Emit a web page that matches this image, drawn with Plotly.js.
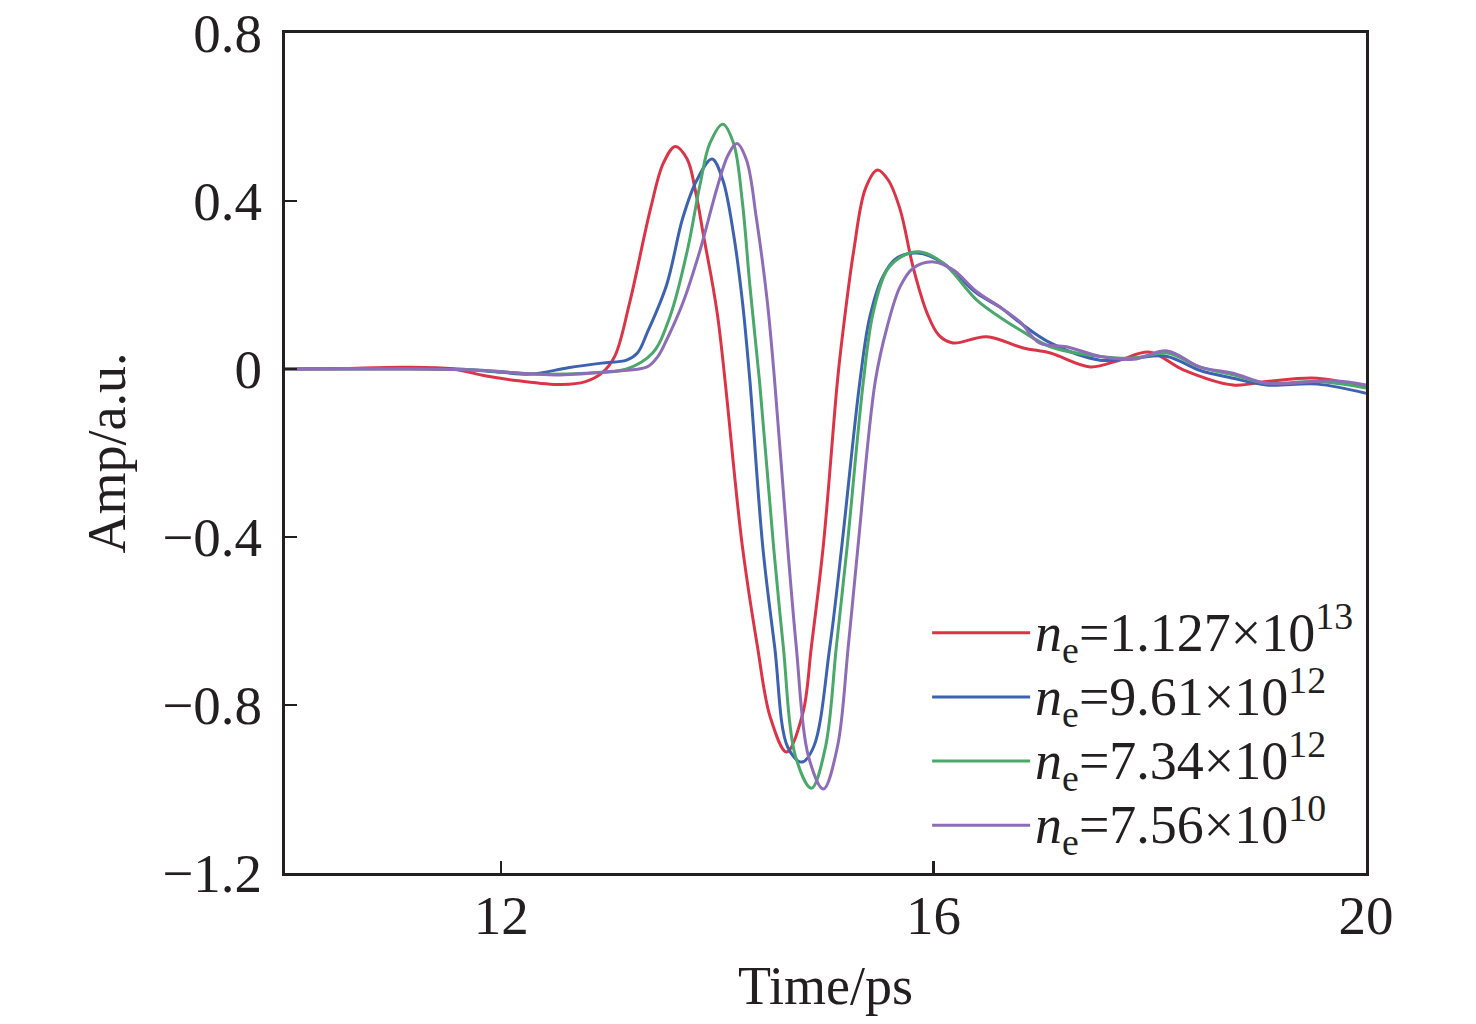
<!DOCTYPE html>
<html>
<head>
<meta charset="utf-8">
<script src="https://cdn.plot.ly/plotly-3.0.1.min.js"></script>
<style>
  body { margin: 0; background: #fff; }
  #chart { width: 1476px; height: 1024px; }
</style>
</head>
<body>
<div id="chart"></div>
<script>
// values (time in ps, amplitude in a.u.)
const redT = [10, 10.5, 11.1, 11.55, 11.85, 12.16, 12.56, 12.78, 12.93, 13.05, 13.19, 13.38, 13.5, 13.61, 13.72, 13.8, 13.87, 14.0, 14.23, 14.37, 14.49, 14.64, 14.79, 14.87, 14.98, 15.11, 15.16, 15.26, 15.37, 15.48, 15.58, 15.69, 15.81, 15.94, 16.05, 16.18, 16.49, 16.83, 17.08, 17.45, 17.72, 18.0, 18.31, 18.77, 19.08, 19.55, 20];
const redA = [0, 0.001, 0.004, 0, -0.016, -0.028, -0.037, -0.03, -0.01, 0.03, 0.16, 0.38, 0.49, 0.53, 0.5, 0.42, 0.32, 0.13, -0.42, -0.66, -0.83, -0.912, -0.82, -0.66, -0.42, -0.03, 0.086, 0.28, 0.43, 0.474, 0.45, 0.38, 0.243, 0.133, 0.08, 0.062, 0.077, 0.05, 0.038, 0.005, 0.021, 0.04, -0.002, -0.038, -0.03, -0.022, -0.045];

const blueT = [10, 11, 11.6, 12.0, 12.28, 12.62, 12.93, 13.16, 13.26, 13.35, 13.53, 13.68, 13.81, 13.95, 14.05, 14.15, 14.23, 14.3, 14.42, 14.53, 14.65, 14.78, 14.89, 15.04, 15.15, 15.32, 15.41, 15.53, 15.66, 15.85, 16.09, 16.4, 16.61, 16.8, 17.08, 17.54, 17.85, 18.16, 18.46, 18.77, 19.08, 19.55, 20];
const blueA = [0, 0.001, 0, -0.008, -0.012, 0.003, 0.014, 0.021, 0.038, 0.086, 0.2, 0.36, 0.45, 0.5, 0.45, 0.32, 0.164, -0.026, -0.424, -0.662, -0.9, -0.936, -0.9, -0.662, -0.424, -0.026, 0.124, 0.22, 0.264, 0.276, 0.252, 0.18, 0.148, 0.11, 0.062, 0.021, 0.026, 0.03, -0.003, -0.022, -0.038, -0.036, -0.058];

const greenT = [10, 11, 11.8, 12.3, 12.78, 13.16, 13.4, 13.56, 13.72, 13.84, 13.93, 14.05, 14.15, 14.23, 14.3, 14.39, 14.52, 14.61, 14.72, 14.87, 15.0, 15.1, 15.2, 15.35, 15.44, 15.57, 15.72, 15.87, 16.09, 16.4, 16.61, 16.8, 17.08, 17.54, 17.85, 18.16, 18.46, 18.77, 19.08, 19.55, 20];
const greenA = [0, 0, -0.003, -0.012, -0.01, 0, 0.038, 0.124, 0.28, 0.44, 0.537, 0.583, 0.537, 0.4, 0.2, -0.03, -0.424, -0.662, -0.92, -0.998, -0.9, -0.662, -0.424, -0.03, 0.133, 0.236, 0.27, 0.279, 0.252, 0.164, 0.124, 0.093, 0.053, 0.03, 0.026, 0.038, 0.005, -0.014, -0.034, -0.03, -0.045];

const purpleT = [10, 11, 11.8, 12.3, 12.54, 13.0, 13.35, 13.45, 13.53, 13.68, 13.84, 14.0, 14.1, 14.18, 14.27, 14.36, 14.46, 14.53, 14.65, 14.73, 14.84, 14.98, 15.11, 15.21, 15.3, 15.46, 15.57, 15.69, 15.81, 16.0, 16.18, 16.4, 16.61, 16.8, 16.98, 17.23, 17.54, 17.85, 18.16, 18.46, 18.77, 19.08, 19.7, 20];
const purpleA = [0, 0, -0.003, -0.012, -0.014, -0.006, 0.005, 0.03, 0.069, 0.157, 0.283, 0.434, 0.51, 0.537, 0.497, 0.36, 0.164, -0.03, -0.424, -0.662, -0.92, -1.0, -0.9, -0.662, -0.424, -0.03, 0.1, 0.196, 0.24, 0.255, 0.236, 0.184, 0.148, 0.112, 0.062, 0.053, 0.03, 0.023, 0.043, 0.005, -0.01, -0.034, -0.028, -0.038];

const names = [
  "<i>n</i><sub>e</sub>=1.127×10<sup>13</sup>",
  "<i>n</i><sub>e</sub>=9.61×10<sup>12</sup>",
  "<i>n</i><sub>e</sub>=7.34×10<sup>12</sup>",
  "<i>n</i><sub>e</sub>=7.56×10<sup>10</sup>"
];
const colors = ["#dc3447", "#3c62b0", "#4aa86a", "#8e6cb8"];

const xs = [redT, blueT, greenT, purpleT];
const ys = [redA, blueA, greenA, purpleA];

const FONT = "'Liberation Serif', 'Times New Roman', serif";
const INK = "#231f20";

let data = [];
for (let i = 0; i < 4; i++) {
  data.push({
    x: xs[i],
    y: ys[i],
    mode: "lines",
    type: "scatter",
    // bigger glyphs than the legend font, so rows stay as tight as the reference
    name: '<span style="font-size:54px">' + names[i] + "</span>",
    line: { color: colors[i], width: 3, shape: "spline", smoothing: 1 }
  });
}

const axisCommon = {
  showgrid: false,
  zeroline: false,
  showline: true,
  mirror: true,
  linecolor: INK,
  linewidth: 3,
  ticks: "inside",
  ticklen: 12,
  tickwidth: 2.5,
  tickcolor: INK,
  tickfont: { family: FONT, size: 55, color: INK }
};

const layout = {
  width: 1476,
  height: 1024,
  margin: { l: 285, r: 110, t: 33, b: 151 },
  paper_bgcolor: "#fff",
  plot_bgcolor: "#fff",
  showlegend: true,
  legend: {
    x: 0.594,
    y: 0.33,
    xanchor: "left",
    yanchor: "top",
    bgcolor: "rgba(0,0,0,0)",
    itemwidth: 98,
    tracegroupgap: 0,
    font: { family: FONT, size: 47, color: INK }
  },
  xaxis: Object.assign({}, axisCommon, {
    range: [10, 20],
    tick0: 0,
    dtick: 4,
    ticklabelstandoff: -8,
    title: { text: "Time/ps", font: { family: FONT, size: 54, color: INK }, standoff: 22 }
  }),
  yaxis: Object.assign({}, axisCommon, {
    range: [-1.2, 0.8],
    tick0: 0,
    dtick: 0.4,
    ticklabelstandoff: 9,
    title: { text: "Amp/a.u.", font: { family: FONT, size: 54, color: INK }, standoff: 20 }
  })
};

Plotly.newPlot("chart", data, layout, { displayModeBar: false, staticPlot: true });
</script>
</body>
</html>
